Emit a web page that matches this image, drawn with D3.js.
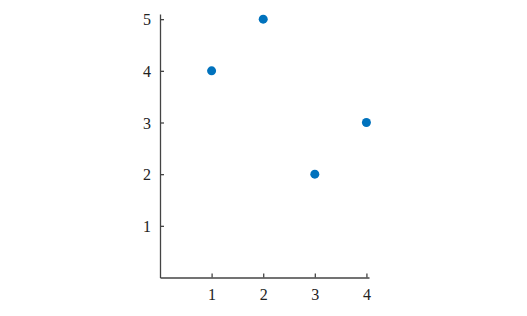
<!DOCTYPE html>
<html>
<head>
<meta charset="utf-8">
<script src="https://cdn.jsdelivr.net/npm/d3@7"></script>
<style>
  body { margin: 0; background: #fff; }
  .axis text { font-family: "Liberation Serif", "DejaVu Serif", serif; font-size: 16px; fill: #222; }
  .axis path, .axis line { stroke: #444; stroke-width: 1.3; }
</style>
</head>
<body>
<div id="chart"></div>
<script>
// data
var xVals = [1, 2, 3, 4];
var yVals = [4, 5, 2, 3];
var xTicks = [1, 2, 3, 4];
var yTicks = [1, 2, 3, 4, 5];

var width = 527, height = 316;

var svg = d3.select("#chart")
  .append("svg")
  .attr("width", width)
  .attr("height", height);

var x = d3.scaleLinear().domain([0, 4.05]).range([160, 369]);
var y = d3.scaleLinear().domain([0, 5.1]).range([277.5, 14]);

// y axis, ticks pointing inward
svg.append("g")
  .attr("class", "axis")
  .attr("transform", "translate(160,0)")
  .call(d3.axisRight(y).tickValues(yTicks).tickSize(4).tickSizeOuter(0).tickFormat(d3.format("d")))
  .call(function(g) {
    g.selectAll("text").attr("x", -9).attr("text-anchor", "end").attr("dy", "0.35em");
  });

// x axis, ticks pointing up
svg.append("g")
  .attr("class", "axis")
  .attr("transform", "translate(0,277.5)")
  .call(d3.axisTop(x).tickValues(xTicks).tickSize(4).tickSizeOuter(0).tickFormat(d3.format("d")))
  .call(function(g) {
    g.selectAll("text").attr("y", 11).attr("dy", "0.71em");
  });

// points
svg.selectAll("circle.pt")
  .data(xVals.map(function(d, i) { return { x: d, y: yVals[i] }; }))
  .enter()
  .append("circle")
    .attr("class", "pt")
    .attr("cx", function(d) { return x(d.x); })
    .attr("cy", function(d) { return y(d.y); })
    .attr("r", 4.5)
    .style("fill", "#0072BD");
</script>
</body>
</html>
